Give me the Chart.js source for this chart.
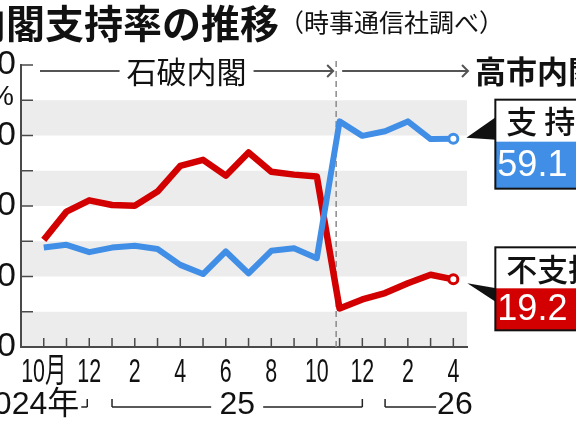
<!DOCTYPE html>
<html lang="ja">
<head>
<meta charset="utf-8">
<title>内閣支持率の推移</title>
<script src="https://cdn.jsdelivr.net/npm/chart.js@4.4.1/dist/chart.umd.min.js"></script>
<style>
    html, body { margin: 0; padding: 0; background: #fff; overflow: hidden; }
    #wrap { position: relative; width: 576px; height: 430px; overflow: hidden; }
    /* the original graphic is cropped on both sides, so the canvas is wider and shifted left */
    #chart { position: absolute; left: -40px; top: 0; }
</style>
</head>
<body>
<div id="wrap"><canvas id="chart" width="660" height="430"></canvas></div>
<script>
// ========================================
// データ（時事通信社調べ、2024年10月〜2026年4月）
// ========================================
const monthLabels = ['10月', '', '12', '', '2', '', '4', '', '6', '', '8', '', '10', '', '12', '', '2', '', '4'];
const supportRate = [28.2, 29.0, 26.9, 28.2, 28.7, 27.8, 23.3, 20.7, 27.1, 20.9, 27.3, 28.0, 25.2, 64.0, 59.9, 61.2, 64.0, 59.0, 59.1];
const disapprovalRate = [30.4, 38.4, 41.6, 40.3, 40.1, 44.1, 51.4, 53.1, 48.6, 55.2, 49.7, 48.9, 48.4, 10.9, 13.5, 15.3, 18.1, 20.5, 19.2];
const yTickValues = [0, 10, 20, 30, 40, 50, 60, 70, 80];
const shadedBands = [[0, 10], [20, 30], [40, 50], [60, 70]];

const cabinetNames = ['石破内閣', '高市内閣'];
const cabinetChangeAt = 12.85; // 政権交代（10月と11月の間）

const yearLabels = ['2024年', '25', '26'];
const yearFirstMonth = [0, 3, 15];
const yearLastMonth = [2, 14, 18];

const seriesNames = ['支 持', '不支持'];

const RED = '#d20000';
const BLUE = '#408ee6';
const AXIS = '#4a4a4a';
const JP = "'Noto Sans CJK JP'";
const NUM = "'Liberation Sans', 'Noto Sans CJK JP'";
const SHIFT = 40; // canvas x = page x + SHIFT

function line(ctx, x1, y1, x2, y2) {
    ctx.beginPath();
    ctx.moveTo(x1, y1);
    ctx.lineTo(x2, y2);
    ctx.stroke();
}

function text(ctx, str, x, y, font, align, color) {
    ctx.font = font;
    ctx.textAlign = align || 'left';
    ctx.textBaseline = 'middle';
    ctx.fillStyle = color || '#111';
    ctx.fillText(str, x, y);
}

/**
 * 末尾の値を示すラベルボックス
 */
function drawCallout(ctx, px, py, name, value, color, boxTop, headH, valH, wedge) {
    const bx = px + 42;
    const bw = 110;
    ctx.fillStyle = '#111';
    ctx.beginPath();
    ctx.moveTo(px + wedge[0], py + wedge[1]);
    ctx.lineTo(bx + 1, py + wedge[2]);
    ctx.lineTo(bx + 1, py + wedge[3]);
    ctx.closePath();
    ctx.fill();

    const top = py + boxTop;
    ctx.fillStyle = '#fff';
    ctx.fillRect(bx, top, bw, headH);
    ctx.fillStyle = color;
    ctx.fillRect(bx, top + headH, bw, valH);
    ctx.strokeStyle = '#111';
    ctx.lineWidth = 2;
    ctx.strokeRect(bx, top, bw, headH + valH);

    text(ctx, name, bx + 11, top + headH / 2 + 1, `500 31px ${JP}`);
    text(ctx, value.toFixed(1), bx + 2, top + headH + valH / 2 + 1, `36px ${NUM}`, 'left', '#fff');
}

const decorations = {
    id: 'decorations',
    beforeDraw(chart) {
        const { ctx, chartArea: a, scales: { y } } = chart;
        ctx.save();
        ctx.fillStyle = '#ececec';
        shadedBands.forEach(([lo, hi]) => {
            const top = y.getPixelForValue(hi);
            ctx.fillRect(a.left, top, a.right - a.left, y.getPixelForValue(lo) - top);
        });
        ctx.restore();
    },
    beforeDatasetsDraw(chart) {
        const { ctx, chartArea: a, scales: { x, y } } = chart;
        ctx.save();
        // 内向きの目盛り
        ctx.strokeStyle = AXIS;
        ctx.lineWidth = 1.5;
        yTickValues.slice(1).forEach(v => {
            const py = y.getPixelForValue(v);
            line(ctx, a.left, py, a.left + 12, py);
        });
        monthLabels.forEach((_, i) => {
            const px = x.getPixelForValue(i);
            line(ctx, px, a.bottom, px, a.bottom - 9);
        });
        // 政権交代の破線
        const cx = x.getPixelForValue(cabinetChangeAt);
        ctx.strokeStyle = '#8a8a8a';
        ctx.setLineDash([6, 4]);
        line(ctx, cx, a.top - 4, cx, a.bottom);
        ctx.restore();
    },
    afterDraw(chart) {
        const { ctx, chartArea: a, scales: { x, y } } = chart;
        ctx.save();

        // 月の目盛りラベル（長体）
        ctx.font = `34px ${NUM}`;
        ctx.textAlign = 'center';
        ctx.textBaseline = 'alphabetic';
        ctx.fillStyle = '#111';
        monthLabels.forEach((label, i) => {
            if (!label) return;
            ctx.save();
            ctx.translate(x.getPixelForValue(i), a.bottom + 35);
            ctx.scale(0.63, 1);
            ctx.fillText(label, 0, 0);
            ctx.restore();
        });

        // タイトル
        text(ctx, '内閣支持率の推移', 279 + SHIFT, 23, `bold 39px ${JP}`, 'right');
        text(ctx, '（時事通信社調べ）', 279 + SHIFT, 22, `25px ${JP}`, 'left');

        // %
        text(ctx, '%', a.left - 7, 97, `28px ${NUM}`, 'right');

        // 石破内閣 → 高市内閣
        const ly = 71;
        const cx = x.getPixelForValue(cabinetChangeAt);
        const start = a.left + 19;
        const end1 = cx - 3;
        const start2 = cx + 6;
        const end2 = a.right + 1;
        ctx.strokeStyle = '#555';
        ctx.lineWidth = 2;
        const mid = (start + end1) / 2;
        line(ctx, start, ly, mid - 67, ly);
        line(ctx, mid + 67, ly, end1, ly);
        line(ctx, start2, ly, end2, ly);
        [end1, end2].forEach(ex => {
            ctx.beginPath();
            ctx.moveTo(ex - 6, ly - 6);
            ctx.lineTo(ex, ly);
            ctx.lineTo(ex - 6, ly + 6);
            ctx.stroke();
        });
        text(ctx, cabinetNames[0], mid, ly + 1, `30px ${JP}`, 'center');
        text(ctx, cabinetNames[1], end2 + 7, ly, `bold 31px ${JP}`, 'left');

        // 年の区切り
        const by = 407;
        ctx.lineWidth = 1.5;
        ctx.strokeStyle = '#222';
        const yearFont = `32px ${NUM}`;
        // 2024年
        const e0 = x.getPixelForValue(yearLastMonth[0]) - 2;
        text(ctx, yearLabels[0], e0 - 8, 405, yearFont, 'right');
        line(ctx, e0, by - 8, e0, by);
        line(ctx, e0 - 6, by, e0, by);
        // 25
        const s1 = x.getPixelForValue(yearFirstMonth[1]);
        const e1 = x.getPixelForValue(yearLastMonth[1]);
        const m1 = (s1 + e1) / 2;
        line(ctx, s1, by - 8, s1, by);
        line(ctx, s1, by, m1 - 26, by);
        line(ctx, m1 + 26, by, e1, by);
        line(ctx, e1, by - 8, e1, by);
        text(ctx, yearLabels[1], m1, 405, yearFont, 'center');
        // 26
        const s2 = x.getPixelForValue(yearFirstMonth[2]);
        line(ctx, s2, by - 8, s2, by);
        line(ctx, s2, by, s2 + 51, by);
        text(ctx, yearLabels[2], s2 + 52, 405, yearFont, 'left');

        // 末尾の値ラベル
        const last = supportRate.length - 1;
        const lx = x.getPixelForValue(last);
        drawCallout(ctx, lx, y.getPixelForValue(supportRate[last]), seriesNames[0], supportRate[last],
            BLUE, -39, 42, 47, [13, -1, -22, 1]);
        drawCallout(ctx, lx, y.getPixelForValue(disapprovalRate[last]), seriesNames[1], disapprovalRate[last],
            RED, -32, 41, 42, [14, 4, 9, 23]);

        ctx.restore();
    }
};

const toPoints = arr => arr.map((v, i) => ({ x: i, y: v }));
const lastIndex = supportRate.length - 1;
const endMarker = ctx => (ctx.dataIndex === lastIndex ? 4.5 : 0);

new Chart(document.getElementById('chart'), {
    type: 'line',
    data: {
        datasets: [
            {
                label: '支持',
                data: toPoints(supportRate),
                borderColor: BLUE,
                borderWidth: 6,
                borderJoinStyle: 'round',
                pointRadius: endMarker,
                pointBackgroundColor: '#fff',
                pointBorderColor: BLUE,
                pointBorderWidth: 3,
                tension: 0
            },
            {
                label: '不支持',
                data: toPoints(disapprovalRate),
                borderColor: RED,
                borderWidth: 6.5,
                borderJoinStyle: 'round',
                pointRadius: endMarker,
                pointBackgroundColor: '#fff',
                pointBorderColor: RED,
                pointBorderWidth: 3,
                tension: 0
            }
        ]
    },
    options: {
        responsive: false,
        animation: false,
        devicePixelRatio: 1,
        layout: { padding: { left: 0, right: 153, top: 65, bottom: 0 } },
        scales: {
            x: {
                type: 'linear',
                min: -1,
                max: 18.6,
                afterBuildTicks: axis => {
                    axis.ticks = monthLabels.map((_, i) => ({ value: i }));
                },
                afterFit: scale => { scale.height = 83; },
                ticks: { display: false },
                grid: { drawOnChartArea: false, drawTicks: false },
                border: { display: true, color: AXIS, width: 2 }
            },
            y: {
                min: 0,
                max: 80,
                afterFit: scale => { scale.width = 61; },
                ticks: {
                    stepSize: 10,
                    padding: 5,
                    color: '#111',
                    font: { family: "'Liberation Sans'", size: 34 },
                    callback: v => (v % 20 === 0 ? String(v) : '')
                },
                grid: { drawOnChartArea: false, drawTicks: false },
                border: { display: true, color: AXIS, width: 2 }
            }
        },
        plugins: {
            legend: { display: false },
            tooltip: { enabled: false }
        }
    },
    plugins: [decorations]
});
</script>
</body>
</html>
